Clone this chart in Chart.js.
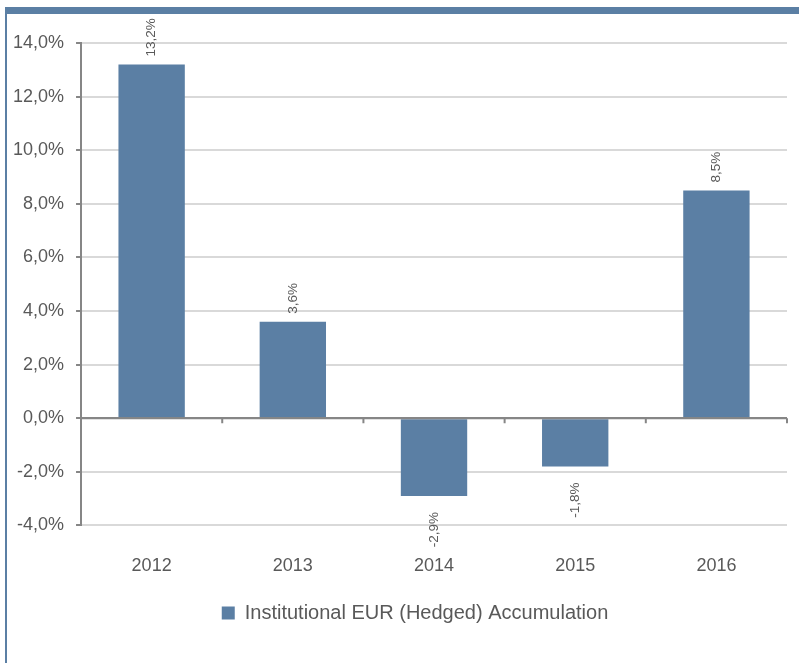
<!DOCTYPE html>
<html>
<head>
<meta charset="utf-8">
<script src="https://cdn.jsdelivr.net/npm/chart.js@4.4.1/dist/chart.umd.min.js"></script>
<style>
    html, body { margin: 0; padding: 0; background: #ffffff; }
    .frame { position: relative; width: 799px; height: 663px; }
    .frame canvas { position: absolute; left: 0; top: 0; }
    .band { position: absolute; left: 5px; top: 7px; right: 0; height: 7px; background: #5b7fa4; }
    .edge { position: absolute; left: 5px; top: 7px; bottom: 0; width: 2px; background: #5b7fa4; }
</style>
</head>
<body>
<div class="frame">
    <canvas id="returns_chart" width="799" height="663"></canvas>
    <div class="band"></div>
    <div class="edge"></div>
</div>
<script>
const categories = ['2012', '2013', '2014', '2015', '2016']
const returns = [13.2, 3.6, -2.9, -1.8, 8.5]
const seriesName = 'Institutional EUR (Hedged) Accumulation'
const yMin = -4
const yMax = 14
const yStep = 2

const barColor = '#5b7fa4'
const textColor = '#595959'
const fontFamily = '"Liberation Sans", Arial, sans-serif'

const pct = (v) => v.toFixed(1).replace('.', ',') + '%'

// value labels rotated, above positive bars and below negative ones
const valueLabels = {
    id: 'valueLabels',
    afterDatasetsDraw(chart) {
        const ctx = chart.ctx
        const meta = chart.getDatasetMeta(0)
        ctx.save()
        ctx.font = '13.5px ' + fontFamily
        ctx.fillStyle = textColor
        ctx.textBaseline = 'middle'
        meta.data.forEach((bar, i) => {
            const v = returns[i]
            ctx.save()
            if (v >= 0) {
                ctx.translate(bar.x, bar.y - 8)
                ctx.rotate(-Math.PI / 2)
                ctx.textAlign = 'left'
            } else {
                ctx.translate(bar.x, bar.y + 16)
                ctx.rotate(-Math.PI / 2)
                ctx.textAlign = 'right'
            }
            ctx.fillText(pct(v), 0, 0)
            ctx.restore()
        })
        ctx.restore()
    }
}

// zero line with tick marks between categories
const zeroTicks = {
    id: 'zeroTicks',
    afterDatasetsDraw(chart) {
        const ctx = chart.ctx
        const x = chart.scales.x
        const y0 = chart.scales.y.getPixelForValue(0)
        ctx.save()
        ctx.strokeStyle = '#868686'
        ctx.lineWidth = 2
        ctx.beginPath()
        ctx.moveTo(x.left, y0)
        ctx.lineTo(x.right, y0)
        for (let i = 1; i <= categories.length; i++) {
            const px = x.left + (x.right - x.left) * i / categories.length
            ctx.moveTo(px, y0)
            ctx.lineTo(px, y0 + 5)
        }
        ctx.stroke()
        ctx.restore()
    }
}

// the legend sits a little right of the canvas centre
const legendShift = {
    id: 'legendShift',
    afterLayout(chart) {
        chart.legend.left += 21
        chart.legend.right += 21
    }
}

const ctx = document.getElementById('returns_chart').getContext('2d')
const returnsChart = new Chart(ctx, {
    type: 'bar',
    data: {
        labels: categories,
        datasets: [{
            label: seriesName,
            data: returns,
            backgroundColor: barColor,
            borderWidth: 0,
            barPercentage: 0.47,
            categoryPercentage: 1
        }]
    },
    options: {
        responsive: false,
        animation: false,
        layout: {
            padding: { top: 43, left: 1, right: 12, bottom: 30 }
        },
        scales: {
            x: {
                grid: { display: false },
                border: { display: false },
                ticks: {
                    color: textColor,
                    padding: 22,
                    font: { family: fontFamily, size: 18 }
                }
            },
            y: {
                min: yMin,
                max: yMax,
                grid: {
                    color: (c) => c.tick && c.tick.value === 0 ? '#868686' : '#d9d9d9',
                    lineWidth: 2,
                    tickLength: 5,
                    tickColor: '#868686'
                },
                border: { color: '#868686', width: 2 },
                ticks: {
                    stepSize: yStep,
                    color: textColor,
                    padding: 12,
                    callback: (v) => pct(v),
                    font: { family: fontFamily, size: 18 }
                }
            }
        },
        plugins: {
            legend: {
                position: 'bottom',
                labels: {
                    color: textColor,
                    boxWidth: 13,
                    boxHeight: 13,
                    padding: 4,
                    font: { family: fontFamily, size: 20 }
                }
            },
            tooltip: { enabled: false }
        }
    },
    plugins: [valueLabels, zeroTicks, legendShift]
})
</script>
</body>
</html>
